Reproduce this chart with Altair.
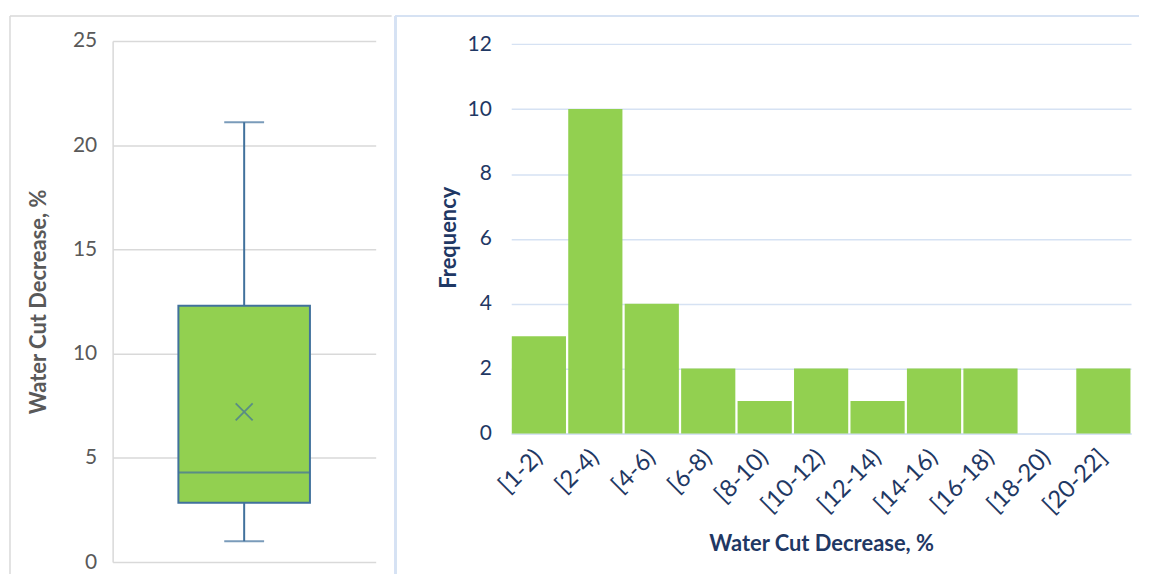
import altair as alt
import pandas as pd

# ---- data ----
bins = ["[1-2)", "[2-4)", "[4-6)", "[6-8)", "[8-10)", "[10-12)",
        "[12-14)", "[14-16)", "[16-18)", "[18-20)", "[20-22]"]
freq = [3, 10, 4, 2, 1, 2, 1, 2, 2, 0, 2]

box_group = ["Water Cut"]
box_min = [1.0]
box_q1 = [2.85]
box_median = [4.3]
box_q3 = [12.3]
box_max = [21.1]
box_mean = [7.2]

FONT = "Lato"
GREEN = "#92d050"
BOXLINE = "#41719c"
NAVY = "#1f3864"
GRAY_TXT = "#595959"

hist_df = pd.DataFrame({"bin": bins, "freq": freq})
box_df = pd.DataFrame({
    "g": box_group, "lo": box_min, "q1": box_q1, "med": box_median,
    "q3": box_q3, "hi": box_max, "mean": box_mean,
})

# ---- left panel: box plot ----
xb = alt.X("g:N", axis=None, scale=alt.Scale(paddingInner=0, paddingOuter=0))
yscale_l = alt.Scale(domain=[0, 25], nice=False)
yaxis_l = alt.Axis(values=[0, 5, 10, 15, 20, 25], title="Water Cut Decrease, %",
                   grid=True, gridColor="#d9d9d9", gridWidth=1.5,
                   domain=True, domainColor="#d9d9d9", domainWidth=1.5,
                   ticks=False, labelPadding=16, labelFont=FONT, labelFontSize=21,
                   labelColor=GRAY_TXT, titleFont=FONT, titleFontSize=22,
                   titleFontWeight="bold", titleColor=GRAY_TXT, titlePadding=22)

base_b = alt.Chart(box_df)
whisk_lo = base_b.mark_rule(color=BOXLINE, strokeWidth=2).encode(
    x=xb, y=alt.Y("lo:Q", scale=yscale_l, axis=yaxis_l), y2="q1:Q")
whisk_hi = base_b.mark_rule(color=BOXLINE, strokeWidth=2).encode(
    x=xb, y=alt.Y("q3:Q", scale=yscale_l), y2="hi:Q")
cap_lo = base_b.mark_tick(color=BOXLINE, thickness=2, size=40).encode(
    x=xb, y=alt.Y("lo:Q", scale=yscale_l))
cap_hi = base_b.mark_tick(color=BOXLINE, thickness=2, size=40).encode(
    x=xb, y=alt.Y("hi:Q", scale=yscale_l))
boxr = base_b.mark_bar(fill=GREEN, stroke=BOXLINE, strokeWidth=2, size=132).encode(
    x=xb, y=alt.Y("q1:Q", scale=yscale_l), y2="q3:Q")
medl = base_b.mark_tick(color=BOXLINE, thickness=2, size=132).encode(
    x=xb, y=alt.Y("med:Q", scale=yscale_l))
meanp = base_b.mark_point(shape="M-1,-1L1,1M-1,1L1,-1", filled=False,
                          stroke=BOXLINE, strokeWidth=1.8, size=289).encode(
    x=xb, y=alt.Y("mean:Q", scale=yscale_l))

border_l_top = base_b.mark_rule(color="#d9d9d9", strokeWidth=1.5).encode(
    x=alt.value(-103), x2=alt.value(280), y=alt.value(-25))
border_l_left = base_b.mark_rule(color="#d9d9d9", strokeWidth=1.5).encode(
    x=alt.value(-103), y=alt.value(-25), y2=alt.value(535))

left = alt.layer(border_l_top, border_l_left, whisk_lo, whisk_hi, cap_lo, cap_hi,
                 boxr, medl, meanp).properties(
    width=264, height=523, view=alt.ViewConfig(stroke="transparent"))

# ---- right panel: histogram ----
blue_line = "#d6e2f3"
bars = alt.Chart(hist_df).mark_bar(color=GREEN).encode(
    x=alt.X("bin:N", sort=bins, title="Water Cut Decrease, %",
            scale=alt.Scale(paddingInner=0.04, paddingOuter=0.01),
            axis=alt.Axis(labelAngle=-45, labelAlign="right", labelBaseline="middle",
                          labelPadding=20, ticks=False, domain=True,
                          domainColor=blue_line, domainWidth=2,
                          labelFont=FONT, labelFontSize=24, labelColor=NAVY,
                          titleFont=FONT, titleFontSize=22, titleFontWeight="bold",
                          titleColor=NAVY, titlePadding=16)),
    y=alt.Y("freq:Q", title="Frequency",
            scale=alt.Scale(domain=[0, 12.1], nice=False),
            axis=alt.Axis(values=[0, 2, 4, 6, 8, 10, 12], grid=True,
                          gridColor=blue_line, gridWidth=1.5, domain=False,
                          ticks=False, labelPadding=20, labelFont=FONT,
                          labelFontSize=21, labelColor=NAVY, titleFont=FONT,
                          titleFontSize=22, titleFontWeight="bold",
                          titleColor=NAVY, titlePadding=7)),
)
border_r_top = alt.Chart(hist_df).mark_rule(color=blue_line, strokeWidth=1.5).encode(
    x=alt.value(-116), x2=alt.value(630), y=alt.value(-25))
border_r_left = alt.Chart(hist_df).mark_rule(color=blue_line, strokeWidth=2).encode(
    x=alt.value(-116), y=alt.value(-25), y2=alt.value(535))

right = alt.layer(border_r_top, border_r_left, bars).properties(
    width=622, height=394, view=alt.ViewConfig(stroke="transparent"))

chart = alt.hconcat(left, right, spacing=0).properties(
    padding={"left": 0, "top": 5, "right": 0, "bottom": 0}
).configure_view(stroke=None).configure(background="white")

chart.save("out.html", embed_options={"renderer": "svg", "actions": False})
